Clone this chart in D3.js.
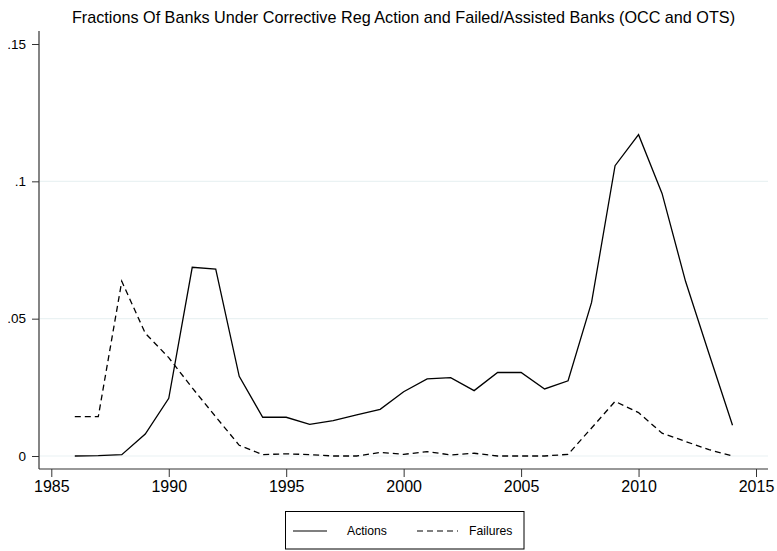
<!DOCTYPE html>
<html>
<head>
<meta charset="utf-8">
<script src="https://cdn.jsdelivr.net/npm/d3@7"></script>
<style>
  html, body { margin: 0; padding: 0; background: #fff; }
  svg { display: block; font-family: "Liberation Sans", Arial, sans-serif; }
</style>
</head>
<body>
<div id="chart"></div>
<script>
// data
const years = [1986, 1987, 1988, 1989, 1990, 1991, 1992, 1993, 1994, 1995,
               1996, 1997, 1998, 1999, 2000, 2001, 2002, 2003, 2004, 2005,
               2006, 2007, 2008, 2009, 2010, 2011, 2012, 2013, 2014];
const actions = [0.0000, 0.0001, 0.0005, 0.0080, 0.0210, 0.0687, 0.0680, 0.0290, 0.0141, 0.0141,
                 0.0115, 0.0129, 0.0150, 0.0170, 0.0234, 0.0281, 0.0285, 0.0238, 0.0304, 0.0304,
                 0.0244, 0.0274, 0.0559, 0.1057, 0.1170, 0.0956, 0.0636, 0.0372, 0.0112];
const failures = [0.0143, 0.0143, 0.0636, 0.0447, 0.0358, 0.0248, 0.0143, 0.0039, 0.0005, 0.0008,
                  0.0005, 0.0000, 0.0000, 0.0013, 0.0006, 0.0016, 0.0004, 0.0010, 0.0000, 0.0000,
                  0.0000, 0.0006, 0.0102, 0.0199, 0.0158, 0.0083, 0.0053, 0.0023, 0.0000];
const xTicks = [1985, 1990, 1995, 2000, 2005, 2010, 2015];
const yTicks = [0, 0.05, 0.1, 0.15];
const yTickLabels = ["0", ".05", ".1", ".15"];
const seriesNames = ["Actions", "Failures"];

const width = 777, height = 551;
const svg = d3.select("#chart").append("svg")
    .attr("width", width)
    .attr("height", height);

const x = d3.scaleLinear().domain([1985, 2015]).range([51.3, 756]);
const y = d3.scaleLinear().domain([0, 0.15]).range([456, 44]);

// 标题
svg.append("text")
    .attr("x", 403.5)
    .attr("y", 23.3)
    .attr("text-anchor", "middle")
    .attr("font-size", 16.2)
    .attr("fill", "#000")
    .text("Fractions Of Banks Under Corrective Reg Action and Failed/Assisted Banks (OCC and OTS)");

// gridlines
svg.append("g")
    .selectAll("line")
    .data(yTicks.filter(d => d < 0.15))
    .join("line")
    .attr("x1", 40)
    .attr("x2", 768)
    .attr("y1", d => y(d))
    .attr("y2", d => y(d))
    .attr("stroke", "#eaf2f3")
    .attr("stroke-width", 1.2);

// y axis
const yAxis = d3.axisLeft(y)
    .tickValues(yTicks)
    .tickFormat((d, i) => yTickLabels[i])
    .tickSize(7)
    .tickPadding(6);
const gy = svg.append("g")
    .attr("transform", "translate(39,0)")
    .call(yAxis);
gy.select(".domain").attr("d", "M0,31V469");

// x axis
const xAxis = d3.axisBottom(x)
    .tickValues(xTicks)
    .tickFormat(d3.format("d"))
    .tickSize(8)
    .tickPadding(4);
const gx = svg.append("g")
    .attr("transform", "translate(0,469)")
    .call(xAxis);
gx.select(".domain").attr("d", "M39,0H768");

[gx, gy].forEach(g => {
    g.selectAll(".domain").attr("stroke", "#333").attr("stroke-width", 1.2);
    g.selectAll(".tick line").attr("stroke", "#333").attr("stroke-width", 1);
    g.selectAll(".tick text").attr("fill", "#000").attr("font-family", "Liberation Sans, Arial, sans-serif");
});
gx.selectAll(".tick text").attr("font-size", 16);
gy.selectAll(".tick text").attr("font-size", 13.5);

// lines
const line = d3.line()
    .x((d, i) => x(years[i]))
    .y(d => y(d));

svg.append("path")
    .attr("d", line(actions))
    .attr("fill", "none")
    .attr("stroke", "#000")
    .attr("stroke-width", 1.3);

svg.append("path")
    .attr("d", line(failures))
    .attr("fill", "none")
    .attr("stroke", "#000")
    .attr("stroke-width", 1.3)
    .attr("stroke-dasharray", "6,4");

// legend
const legend = svg.append("g");
legend.append("rect")
    .attr("x", 285.5)
    .attr("y", 511.5)
    .attr("width", 238.5)
    .attr("height", 37.5)
    .attr("fill", "#fff")
    .attr("stroke", "#000")
    .attr("stroke-width", 1);

const legendItems = [
    { name: seriesNames[0], x1: 293, x2: 327, tx: 347, dash: null },
    { name: seriesNames[1], x1: 417, x2: 458, tx: 469, dash: "6,4" }
];
legendItems.forEach(it => {
    legend.append("line")
        .attr("x1", it.x1).attr("x2", it.x2)
        .attr("y1", 531).attr("y2", 531)
        .attr("stroke", "#000")
        .attr("stroke-width", 1.2)
        .attr("stroke-dasharray", it.dash);
    legend.append("text")
        .attr("x", it.tx)
        .attr("y", 535)
        .attr("font-size", 12.2)
        .attr("fill", "#000")
        .text(it.name);
});
</script>
</body>
</html>
